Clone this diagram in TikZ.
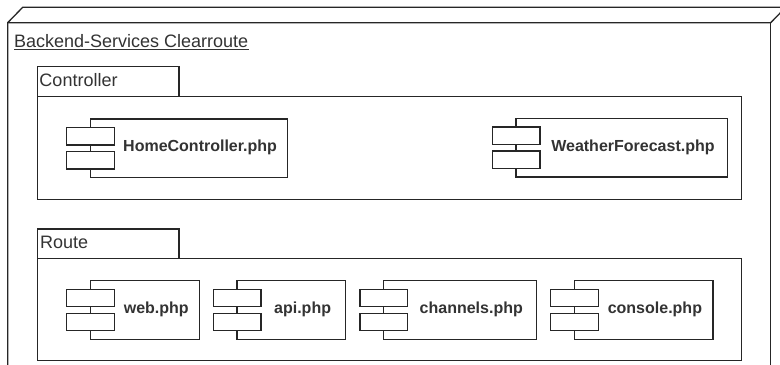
\documentclass[tikz,border=0pt]{standalone}
\usepackage{fontspec}
\setmainfont{Liberation Sans}
\newcommand\mycomp[5]{%
  \pgfmathsetmacro\cw{#3-#2-23.5}%
  \pgfmathsetmacro\cx{#2+23.5}%
  \pgfmathsetmacro\tx{(#2+47.5+#3)/2}%
  \pgfmathsetmacro\ty{#4+29.5}%
  \node[compbox, minimum width=\cw bp, anchor=north west] (#1) at (\cx,#4) {};
  \node[port, anchor=north west] (#1-p1) at (#2,#4+8.5) {};
  \node[port, anchor=north west] (#1-p2) at (#2,#4+32.5) {};
  \node[complabel] (#1-t) at (\tx,\ty) {#5};
}
\begin{document}
\begin{tikzpicture}[x=1bp,y=-1bp,
  ln/.style={draw=black!85, line width=1.3bp},
  compbox/.style={ln, fill=white, inner sep=0pt, minimum height=58.5bp},
  port/.style={ln, fill=white, inner sep=0pt, minimum width=47.5bp, minimum height=17.5bp},
  complabel/.style={inner sep=0pt, text=black!80, font=\fontsize{16bp}{19bp}\selectfont\bfseries},
  pkgshape/.style={ln, fill=white, inner sep=0pt},
  pkglabel/.style={inner sep=0pt, text=black!80, font=\fontsize{18bp}{21bp}\selectfont, anchor=base west}]
\useasboundingbox (0,0) rectangle (780,364);
\fill[white] (0,0) rectangle (780,364);
% outer 3D node
\begin{scope}
\clip (0,0) rectangle (780,364);
\draw[ln, line join=miter] (7.7,400) -- (7.7,22.7) -- (22.7,7.3) -- (785.7,7.3) -- (785.7,400);
\draw[ln] (7.7,22.7) -- (770.7,22.7) -- (785.7,7.3);
\draw[ln] (770.7,22.7) -- (770.7,400);
\end{scope}
\node[inner sep=0pt, anchor=base west, text=black!80, font=\fontsize{18bp}{21bp}\selectfont] (outer) at (14,47.3) {Backend-Services Clearroute};
\draw[draw=black!80, line width=1bp] ([yshift=-2.3bp]outer.base west) -- ([yshift=-2.3bp]outer.base east);
% Controller package
\node[pkgshape, minimum width=141.6bp, minimum height=30bp, anchor=north west] (ctrl-tab) at (36.7,65.7) {};
\node[pkgshape, minimum width=704.3bp, minimum height=103bp, anchor=north west] (ctrl) at (36.7,95.7) {};
\node[pkglabel] (ctrl-lbl) at (39.3,86.7) {Controller};
% Route package
\node[pkgshape, minimum width=141.6bp, minimum height=29.2bp, anchor=north west] (route-tab) at (36.7,228.3) {};
\node[pkgshape, minimum width=704.3bp, minimum height=102.5bp, anchor=north west] (route) at (36.7,257.5) {};
\node[pkglabel] (route-lbl) at (40,248.3) {Route};
% components
\mycomp{home}{66}{286.7}{118.3}{HomeController.php}
\mycomp{weather}{491.7}{726.7}{117.7}{WeatherForecast.php}
\mycomp{web}{66}{199}{280}{web.php}
\mycomp{api}{212.7}{345}{280}{api.php}
\mycomp{channels}{359.3}{535.7}{280}{channels.php}
\mycomp{console}{550}{712.3}{280}{console.php}
\end{tikzpicture}
\end{document}
